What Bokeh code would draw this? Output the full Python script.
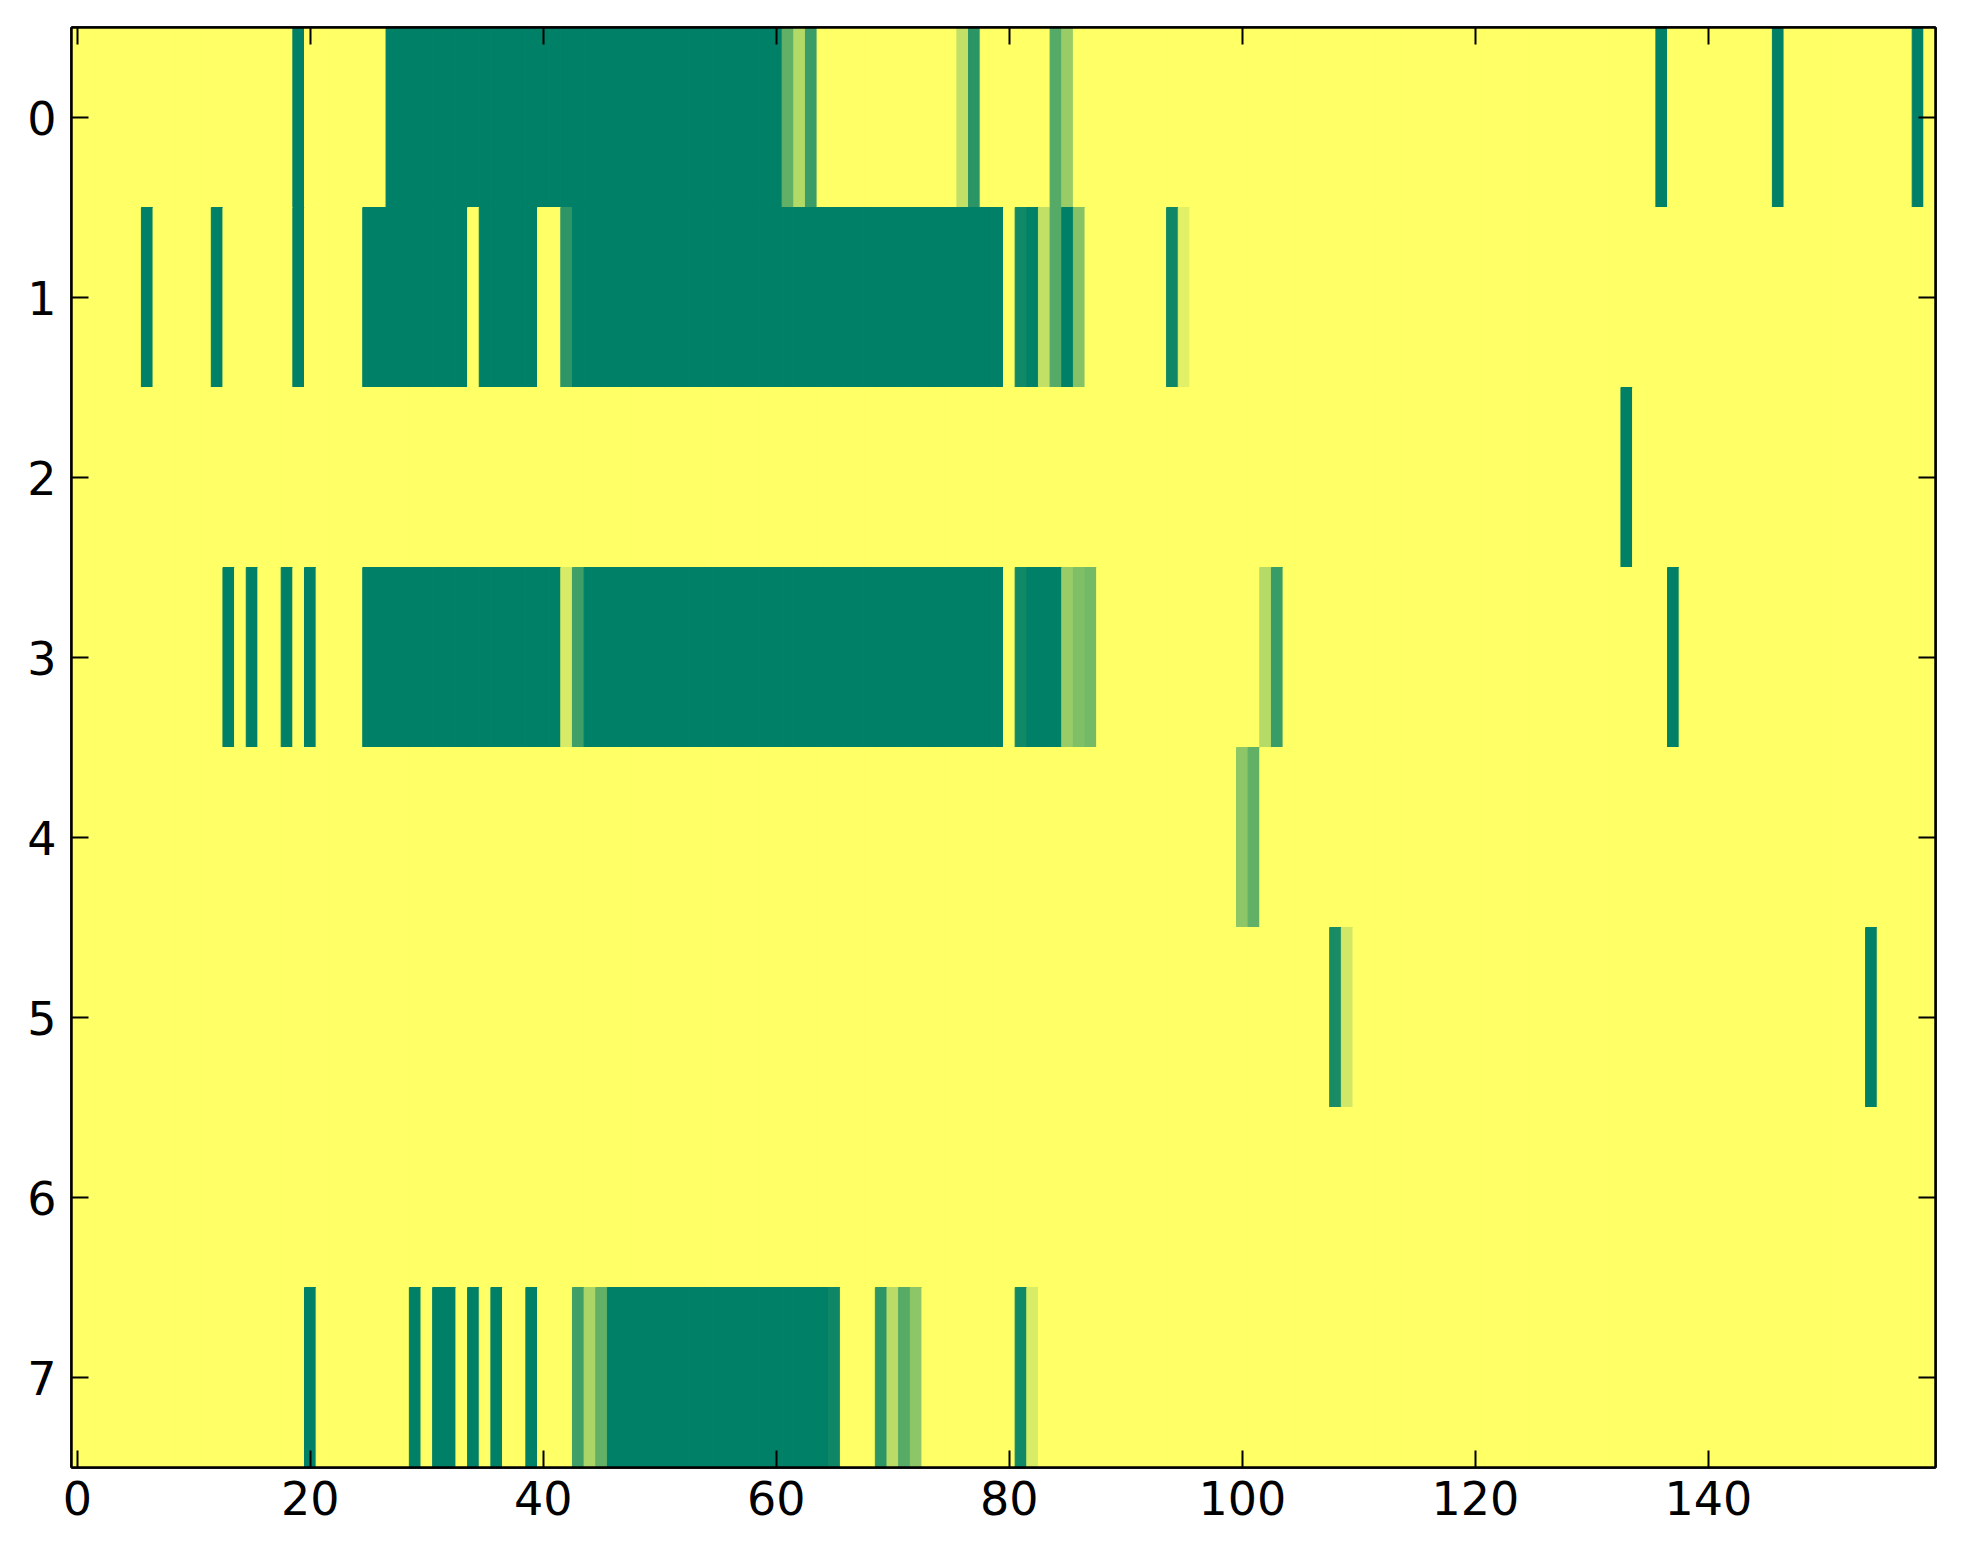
from bokeh.plotting import figure
from bokeh.models import Range1d, LinearColorMapper, FixedTicker, LinearAxis, ColumnDataSource
from bokeh.transform import transform
from bokeh.embed import file_html
from bokeh.resources import INLINE

# ---- data -------------------------------------------------------------
N_COLS = 160
N_ROWS = 8
x_ticks = [0, 20, 40, 60, 80, 100, 120, 140]
y_ticks = [0, 1, 2, 3, 4, 5, 6, 7]

# runs of non-zero cells per row: (first column, last column, value)
row0_runs = [(19, 19, 1.0), (27, 60, 1.0), (61, 61, 0.62), (62, 62, 0.30), (63, 63, 0.77),
             (76, 76, 0.24), (77, 77, 0.83), (84, 84, 0.67), (85, 85, 0.40),
             (136, 136, 1.0), (146, 146, 1.0), (158, 158, 1.0)]
row1_runs = [(6, 6, 1.0), (12, 12, 1.0), (19, 19, 1.0), (25, 33, 1.0), (35, 39, 1.0),
             (42, 42, 0.82), (43, 79, 1.0), (81, 81, 0.93), (82, 82, 1.0), (83, 83, 0.24),
             (84, 84, 0.67), (85, 85, 1.0), (86, 86, 0.48), (94, 94, 0.94), (95, 95, 0.12)]
row2_runs = [(133, 133, 1.0)]
row3_runs = [(13, 13, 1.0), (15, 15, 1.0), (18, 18, 1.0), (20, 20, 1.0), (25, 41, 1.0),
             (42, 42, 0.16), (43, 43, 0.75), (44, 79, 1.0), (81, 81, 0.93), (82, 84, 1.0),
             (85, 85, 0.40), (86, 86, 0.50), (87, 87, 0.55), (102, 102, 0.29), (103, 103, 0.78),
             (137, 137, 1.0)]
row4_runs = [(100, 100, 0.45), (101, 101, 0.62)]
row5_runs = [(108, 108, 0.90), (109, 109, 0.18), (154, 154, 1.0)]
row6_runs = []
row7_runs = [(20, 20, 1.0), (29, 29, 1.0), (31, 32, 1.0), (34, 34, 1.0), (36, 36, 1.0),
             (39, 39, 1.0), (43, 43, 0.75), (44, 44, 0.33), (45, 45, 0.61), (46, 64, 1.0),
             (65, 65, 0.94), (69, 69, 0.82), (70, 70, 0.27), (71, 71, 0.66), (72, 72, 0.45),
             (81, 81, 0.93), (82, 82, 0.15)]

rows = [row0_runs, row1_runs, row2_runs, row3_runs, row4_runs, row5_runs, row6_runs, row7_runs]

xs, ys, vs = [], [], []
for r, runs in enumerate(rows):
    vals = [0.0] * N_COLS
    for a, b, v in runs:
        for c in range(a, b + 1):
            vals[c] = v
    for c in range(N_COLS):
        xs.append(c)
        ys.append(r)
        vs.append(vals[c])

source = ColumnDataSource(data=dict(x=xs, y=ys, v=vs))

# summer_r colormap (matplotlib)
def summer_r(t):
    s = 1.0 - t
    r, g, b = s, 0.5 + 0.5 * s, 0.4
    return "#%02x%02x%02x" % (int(round(r * 255)), int(round(g * 255)), int(round(b * 255)))

palette = [summer_r(i / 255.0) for i in range(256)]
mapper = LinearColorMapper(palette=palette, low=0, high=1)

# ---- figure -----------------------------------------------------------
p = figure(width=1947, height=1548, title=None,
           x_range=Range1d(-0.5, N_COLS - 0.5), y_range=Range1d(N_ROWS - 0.5, -0.5),
           output_backend="svg", toolbar_location=None,
           min_border_left=71, min_border_right=12, min_border_top=27, min_border_bottom=81)

p.rect(x="x", y="y", width=1, height=1, source=source,
       fill_color=transform("v", mapper), line_color=transform("v", mapper), line_width=1)

p.grid.visible = False
p.outline_line_color = "black"
p.outline_line_width = 2.5
p.background_fill_color = "white"
p.border_fill_color = "white"


def style(ax, ticks, show_labels, standoff=0):
    ax.ticker = FixedTicker(ticks=ticks)
    ax.axis_line_color = "black"
    ax.axis_line_width = 2.5
    ax.major_tick_in = 17
    ax.major_tick_out = 0
    ax.major_tick_line_width = 2
    ax.major_tick_line_color = "black"
    ax.minor_tick_line_color = None
    ax.major_label_text_font = "DejaVu Sans"
    ax.major_label_text_color = "black"
    ax.major_label_text_font_size = "46px"
    if show_labels:
        ax.major_label_standoff = standoff
    else:
        ax.major_label_overrides = {t: "" for t in ticks}
        ax.major_label_standoff = 0


style(p.xaxis[0], x_ticks, True, 13)
style(p.yaxis[0], y_ticks, True, 15)

top_axis = LinearAxis()
right_axis = LinearAxis()
p.add_layout(top_axis, "above")
p.add_layout(right_axis, "right")
style(top_axis, x_ticks, False)
style(right_axis, y_ticks, False)

open("out.html", "w").write(file_html(p, INLINE))
